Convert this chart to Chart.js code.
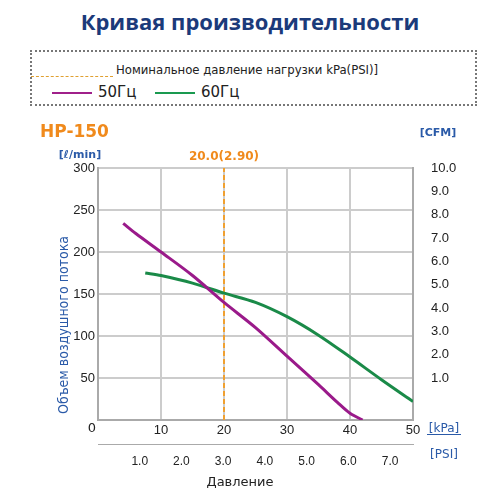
<!DOCTYPE html>
<html>
<head>
<meta charset="utf-8">
<script src="https://cdn.jsdelivr.net/npm/chart.js@4/dist/chart.umd.min.js"></script>
<style>
  body { margin: 0; background: #fff; font-family: "Noto Sans", sans-serif; }
  #wrap { position: relative; width: 500px; height: 500px; }
  #wrap canvas { position: absolute; left: 0; top: 0; }
  .title { position: absolute; left: 0; width: 500px; top: 6px; text-align: center; font: bold 22px "Open Sans", sans-serif; color: #1b3a7a; }
  .box { position: absolute; left: 30px; top: 50px; width: 443px; height: 52px; border: 2px dotted #777; }
  .note { position: absolute; left: 116px; top: 62px; font: 13px "DejaVu Sans Condensed", "Noto Sans", sans-serif; color: #222; }
  .nom { position: absolute; left: 31px; top: 76px; width: 82px; border-top: 1px dashed #e0a030; }
  .leg { position: absolute; top: 83px; font: 15px "DejaVu Sans", sans-serif; color: #222; }
  .sw { display: inline-block; width: 40px; height: 0; border-top: 2px solid; vertical-align: middle; margin-right: 6px; }
</style>
</head>
<body>
<div id="wrap">
  <div class="title">Кривая производительности</div>
  <div class="box"></div>
  <div class="nom"></div>
  <div class="note">Номинальное давление нагрузки kPa(PSI)]</div>
  <div class="leg" style="left:52px"><span class="sw" style="border-color:#a0208a"></span>50Гц</div>
  <div class="leg" style="left:155px"><span class="sw" style="border-color:#1a9a50"></span>60Гц</div>
  <canvas id="c" width="500" height="500"></canvas>
</div>
<script>
const pressure50 = [4, 6, 10, 15, 20, 25, 30, 35, 38, 40, 42];
const flow50 = [234, 222, 200, 172, 140, 110, 76, 42, 21, 8, 0];
const pressure60 = [7.5, 10, 15, 20, 25, 30, 35, 40, 45, 50];
const flow60 = [175, 172, 163, 151, 140, 123, 101, 75, 48, 22];
const ratedPressure = 20;
const psiTicks = [1, 2, 3, 4, 5, 6, 7];
const cfmTicks = [1, 2, 3, 4, 5, 6, 7, 8, 9, 10];

const pts = (xs, ys) => xs.map((x, i) => ({ x, y: ys[i] }));
const blue = '#2a5aa8';

const labelsPlugin = {
    id: 'labels',
    afterDraw(chart) {
        const ctx = chart.ctx;
        const a = chart.chartArea;
        ctx.save();
        ctx.fillStyle = '#f08a1c';
        ctx.font = 'bold 17px "DejaVu Sans", sans-serif';
        ctx.textAlign = 'left';
        ctx.fillText('HP-150', 40, 137);
        ctx.font = 'bold 12px "DejaVu Sans", sans-serif';
        ctx.textAlign = 'center';
        ctx.fillText('20.0(2.90)', chart.scales.x.getPixelForValue(ratedPressure), 160);
        ctx.fillStyle = blue;
        ctx.font = 'bold 11px "DejaVu Sans", sans-serif';
        ctx.fillText('[ℓ/min]', 80, 158);
        ctx.fillText('[CFM]', 438, 136);
        ctx.font = '12px "DejaVu Sans", sans-serif';
        ctx.fillText('[kPa]', 444, 432);
        ctx.fillRect(427, 434, 34, 1);
        ctx.fillText('[PSI]', 444, 458);
        ctx.fillStyle = '#222';
        ctx.font = '13px "DejaVu Sans", sans-serif';
        ctx.fillText('Давление', 240, 486);
        ctx.fillText('0', 92, 432);
        ctx.translate(68, 325);
        ctx.rotate(-Math.PI / 2);
        ctx.fillStyle = blue;
        ctx.font = '14px "DejaVu Sans Condensed", sans-serif';
        ctx.fillText('Объем воздушного потока', 0, 0);
        ctx.restore();
    }
};

new Chart(document.getElementById('c'), {
    type: 'scatter',
    data: {
        datasets: [
            { data: pts(pressure50, flow50), showLine: true, borderColor: '#9a1a8a', borderWidth: 3, pointRadius: 0, tension: 0.3 },
            { data: pts(pressure60, flow60), showLine: true, borderColor: '#1a8a48', borderWidth: 3, pointRadius: 0, tension: 0.3 },
            { data: [{ x: ratedPressure, y: 0 }, { x: ratedPressure, y: 300 }], showLine: true, borderColor: '#f0a030', borderWidth: 2, borderDash: [5, 3], pointRadius: 0 }
        ]
    },
    options: {
        responsive: false,
        animation: false,
        layout: { padding: { top: 168, left: 0, right: 0, bottom: 0 } },
        plugins: { legend: { display: false }, tooltip: { enabled: false } },
        scales: {
            x: {
                type: 'linear', min: 0, max: 50,
                ticks: { stepSize: 10, color: '#222', font: { size: 13 }, callback: v => v === 0 ? '' : v },
                grid: { color: '#ccc', lineWidth: 2, drawTicks: false },
                border: { color: '#aaa', width: 2 },
                afterFit: s => { s.height = 24; }
            },
            x2: {
                type: 'linear', position: 'bottom', min: 0, max: 7.55,
                afterBuildTicks: s => { s.ticks = psiTicks.map(v => ({ value: v })); },
                ticks: { color: '#222', font: { size: 12 }, padding: 2, callback: v => v.toFixed(1) },
                grid: { display: false },
                border: { color: '#aaa' },
                afterFit: s => { s.height = 56; }
            },
            y: {
                min: 0, max: 300,
                afterBuildTicks: s => { s.ticks = [0, 50, 100, 150, 200, 250, 300].map(v => ({ value: v })); },
                ticks: { color: '#222', font: { size: 13 }, callback: v => v === 0 ? '' : v },
                grid: { color: '#ccc', lineWidth: 2, drawTicks: false },
                border: { color: '#aaa', width: 2 },
                afterFit: s => { s.width = 98; }
            },
            y2: {
                position: 'right', min: -0.8, max: 10,
                afterBuildTicks: s => { s.ticks = cfmTicks.map(v => ({ value: v })); },
                ticks: { color: '#222', font: { size: 13 }, padding: 10, callback: v => v.toFixed(1) },
                grid: { display: false, drawOnChartArea: false },
                border: { color: '#aaa', width: 2 },
                afterFit: s => { s.width = 87; }
            }
        }
    },
    plugins: [labelsPlugin]
});
</script>
</body>
</html>
